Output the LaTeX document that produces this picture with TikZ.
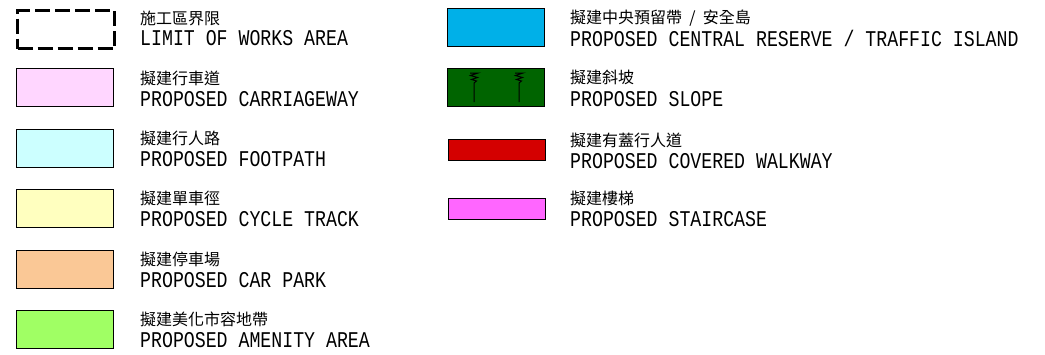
\documentclass[tikz,border=0pt]{standalone}
\usepackage{fontspec}
\newfontfamily\cadfont[FakeStretch=0.81]{Liberation Mono}
\newfontfamily\cjkfont{Noto Sans CJK TC}
\usetikzlibrary{positioning}
\definecolor{carriagepink}{RGB}{255,214,255}
\definecolor{footcyan}{RGB}{204,255,255}
\definecolor{cycleyellow}{RGB}{255,255,191}
\definecolor{parkorange}{RGB}{250,200,150}
\definecolor{amenitygreen}{RGB}{160,255,100}
\definecolor{reserveblue}{RGB}{0,176,232}
\definecolor{slopegreen}{RGB}{0,100,0}
\definecolor{walkred}{RGB}{212,0,0}
\definecolor{stairmagenta}{RGB}{255,102,255}

\begin{document}
\begin{tikzpicture}[x=1pt, y=-1pt,
    swatch/.style={draw, line width=1.3pt, minimum width=97pt, minimum height=38pt, inner sep=0pt, anchor=north west},
    flat swatch/.style={swatch, minimum height=21pt},
    zh/.style={anchor=west, inner sep=0pt, font=\cjkfont\fontsize{16}{16}\selectfont},
    en/.style={anchor=west, inner sep=0pt, font=\cadfont\fontsize{22.5}{22.5}\selectfont}]
    \useasboundingbox (0,0) rectangle (1045,354);

    \node[swatch, line width=3pt, dash pattern=on 15pt off 5pt] (limit) at (16,9) {};
    \node[zh] (limitzh) at (140,18) {施工區界限};
    \node[en] (limiten) at (140,38.5) {LIMIT OF WORKS AREA};

    \node[swatch, fill=carriagepink] (carriage) at (16,68) {};
    \node[zh] (carriagezh) at (140,78) {擬建行車道};
    \node[en] (carriageen) at (140,99) {PROPOSED CARRIAGEWAY};

    \node[swatch, fill=footcyan] (foot) at (16,129) {};
    \node[zh] (footzh) at (140,138) {擬建行人路};
    \node[en] (footen) at (140,159.5) {PROPOSED FOOTPATH};

    \node[swatch, fill=cycleyellow] (cycle) at (16,189) {};
    \node[zh] (cyclezh) at (140,198) {擬建單車徑};
    \node[en] (cycleen) at (140,219.5) {PROPOSED CYCLE TRACK};

    \node[swatch, fill=parkorange] (park) at (16,250) {};
    \node[zh] (parkzh) at (140,259) {擬建停車場};
    \node[en] (parken) at (140,280.5) {PROPOSED CAR PARK};

    \node[swatch, fill=amenitygreen] (amenity) at (16,310) {};
    \node[zh] (amenityzh) at (140,319) {擬建美化市容地帶};
    \node[en] (amenityen) at (140,340.5) {PROPOSED AMENITY AREA};

    \node[swatch, fill=reserveblue] (reserve) at (447,8) {};
    \node[zh] (reservezh) at (570,18) {擬建中央預留帶 \ / \ 安全島};
    \node[en] (reserveen) at (570,38.5) {PROPOSED CENTRAL RESERVE / TRAFFIC ISLAND};

    \node[swatch, fill=slopegreen] (slope) at (447,68) {};
    \node[zh] (slopezh) at (570,77) {擬建斜坡};
    \node[en] (slopeen) at (570,99) {PROPOSED SLOPE};
    \foreach \sx in {474,519} {
        \draw[line width=1pt] (\sx-4,73) -- (\sx+4,73) -- (\sx-3.5,75.5) -- (\sx+3.5,77.5) -- (\sx-2.5,79.5) -- (\sx+2.5,81) -- (\sx,83) -- (\sx,102);
    }

    \node[flat swatch, fill=walkred] (walk) at (448,139) {};
    \node[zh] (walkzh) at (570,140) {擬建有蓋行人道};
    \node[en] (walken) at (570,161) {PROPOSED COVERED WALKWAY};

    \node[flat swatch, fill=stairmagenta] (stair) at (448,198) {};
    \node[zh] (stairzh) at (570,198) {擬建樓梯};
    \node[en] (stairen) at (570,219.5) {PROPOSED STAIRCASE};
\end{tikzpicture}
\end{document}
